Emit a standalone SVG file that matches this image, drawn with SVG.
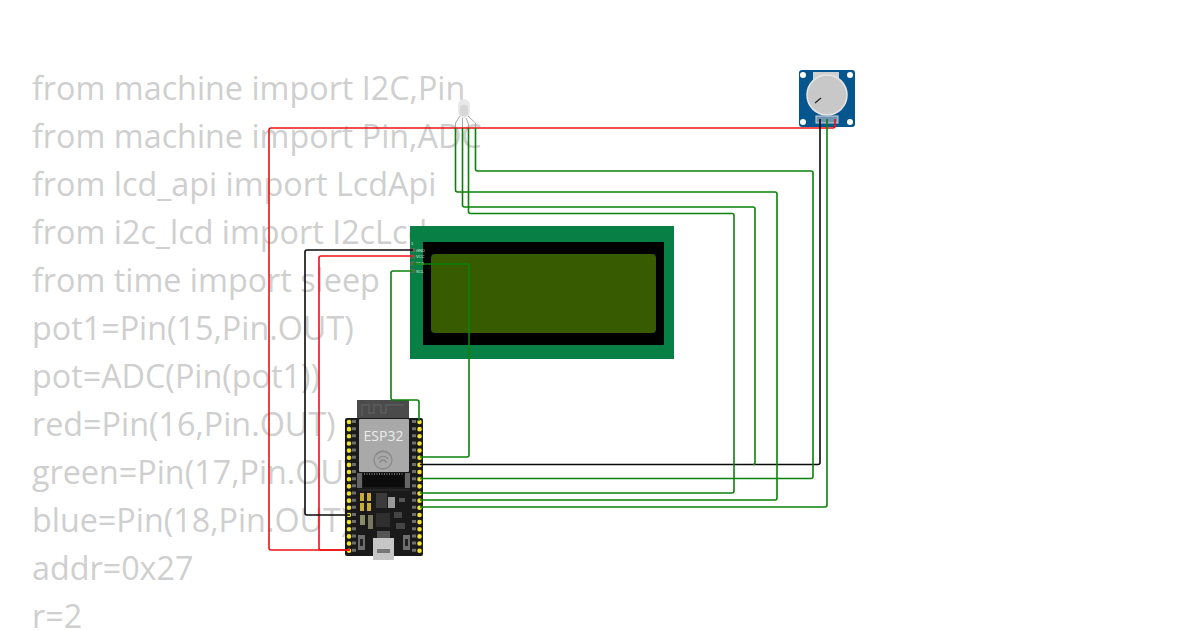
<svg xmlns="http://www.w3.org/2000/svg" width="1200" height="630" viewBox="0 0 1200 630">
<style>
.code{font:32.300px "Open Sans","Noto Sans",sans-serif;fill:#cfcfcf}
.w{fill:none;stroke-width:1.600;stroke-linejoin:round}
.g{stroke:#0a820a}.r{stroke:#ee1111}.k{stroke:#0a0a0a}
.l{font:4px "Liberation Sans",sans-serif;fill:#e4efe4}
.pad{fill:#5b6b52}
.pin{fill:none;stroke:#f2e230;stroke-width:4.600;stroke-linecap:round;stroke-dasharray:0 7.150}
.silk{fill:none;stroke:#6f6f6f;stroke-width:4;stroke-dasharray:3 4.150}
.hole{fill:#fff}
</style>
<rect width="1200" height="630" fill="#fff"/>
<g id="code">
<text class="code" x="32" y="100">from machine import I2C,Pin</text>
<text class="code" x="32" y="148">from machine import Pin,ADC</text>
<text class="code" x="32" y="196">from lcd_api import LcdApi</text>
<text class="code" x="32" y="244">from i2c_lcd import I2cLcd</text>
<text class="code" x="32" y="292">from time import sleep</text>
<text class="code" x="32" y="340">pot1=Pin(15,Pin.OUT)</text>
<text class="code" x="32" y="388">pot=ADC(Pin(pot1))</text>
<text class="code" x="32" y="436">red=Pin(16,Pin.OUT)</text>
<text class="code" x="32" y="484">green=Pin(17,Pin.OUT)</text>
<text class="code" x="32" y="532">blue=Pin(18,Pin.OUT)</text>
<text class="code" x="32" y="580">addr=0x27</text>
<text class="code" x="32" y="628">r=2</text>
</g>
<g id="lcd">
<rect x="410" y="226" width="264" height="133" fill="#087f45"/>
<rect x="423" y="242" width="241" height="103" fill="#000"/>
<rect x="431" y="254" width="225" height="79" rx="4" fill="#375b00"/>
<rect class="pad" x="411" y="248" width="4" height="4"/><rect class="pad" x="411" y="254.500" width="4" height="4"/><rect class="pad" x="411" y="261.500" width="4" height="4"/><rect class="pad" x="411" y="269" width="4" height="4"/>
<text class="l" x="411" y="245">1</text><text class="l" x="416" y="251.500">GND</text><text class="l" x="416" y="258">VCC</text><text class="l" x="416" y="265">SDA</text><text class="l" x="416" y="272.500">SCL</text>
</g>
<g id="led">
<rect x="458" y="99" width="12" height="19" rx="6" fill="#e8e8e8"/>
<rect x="460" y="105" width="8" height="11" rx="3" fill="#d6d6d6"/>
<path d="M460 116L455.500 123V128M462.500 118V128M466 118L468.500 124V128M468 116L475.500 123V128" fill="none" stroke="#a8a8a8" stroke-width="1"/>
</g>
<g id="pot">
<rect x="799" y="70" width="56" height="57" rx="3" fill="#05558f"/>
<circle class="hole" cx="803" cy="75" r="3"/><circle class="hole" cx="850" cy="75" r="3"/><circle class="hole" cx="803" cy="122" r="3"/><circle class="hole" cx="850" cy="122" r="3"/>
<rect x="813" y="72" width="26" height="8" fill="#cfcfcf"/>
<circle cx="827" cy="95" r="20" fill="#c8c8c8" stroke="#e6e6e6" stroke-width="1.500"/>
<path d="M815 103L821 98" stroke="#222" stroke-width="1.200"/>
<rect x="816" y="116" width="22" height="7" fill="#6f93b3" stroke="#c8d4de" stroke-width="1"/>
</g>
<g id="esp32">
<rect x="357" y="400" width="52" height="22" fill="#4b4b4b"/>
<path d="M362 416V405H369V413H374V405H381V413H386V405H404" fill="none" stroke="#5e5e5e" stroke-width="1.500"/>
<rect x="345" y="418" width="78" height="138" rx="2" fill="#1a1a1a"/>
<path class="silk" d="M354 420V552M414 420V552"/>
<path class="pin" d="M349 422V552M419.500 422V552"/>
<rect x="359" y="419" width="50" height="53" rx="1" fill="#a9a9a9"/>
<text x="383.500" y="441" text-anchor="middle" font-family="Open Sans,sans-serif" font-size="14" fill="#ececec">ESP32</text>
<g fill="none" stroke="#8a8a8a" stroke-width="1.300"><path d="M376 455a9 9 0 0 1 14 0M378 459a6 6 0 0 1 10 0M380 463a3 3 0 0 1 6 0"/><circle cx="383" cy="460" r="9"/></g>
<rect x="357" y="473" width="5" height="15" fill="#666"/><rect x="405" y="473" width="5" height="15" fill="#666"/>
<rect x="363" y="473" width="41" height="14" fill="#0c0c0c"/>
<path d="M364 474H403" stroke="#666" stroke-width="2" stroke-dasharray="1 1.500"/>
<path d="M358 490H410" stroke="#333" stroke-width="1"/>
<rect x="360" y="493" width="4" height="8" fill="#c8aa40"/><rect x="367" y="493" width="4" height="8" fill="#c8aa40"/>
<rect x="360" y="503" width="4" height="8" fill="#c8aa40"/><rect x="367" y="503" width="4" height="8" fill="#c8aa40"/>
<rect x="376" y="493" width="11" height="15" fill="#3b3b3b"/>
<rect x="388" y="497" width="7" height="11" fill="#9a9a9a"/>
<rect x="399" y="498" width="6" height="4" fill="#555"/>
<rect x="376" y="513" width="14" height="14" fill="#2e2e2e"/>
<rect x="360" y="515" width="5" height="10" fill="#8a8a6a"/><rect x="368" y="515" width="5" height="14" fill="#77775f"/>
<rect x="394" y="512" width="8" height="6" fill="#444"/><rect x="396" y="523" width="9" height="6" fill="#444"/>
<rect x="358" y="535" width="7" height="15" fill="#6e6e6e"/><rect x="360" y="539" width="3" height="7" fill="#222"/>
<rect x="403" y="535" width="7" height="15" fill="#6e6e6e"/><rect x="405" y="539" width="3" height="7" fill="#222"/>
<rect x="373" y="538" width="21" height="22" fill="#c6c6c6"/>
<rect x="377" y="531" width="13" height="7" fill="#555"/>
<rect x="377" y="549" width="13" height="4" fill="#777"/>
</g>
<g id="connectors">
<path class="w r" d="M835 119V126Q835 128 833 128H271Q269 128 269 130V548Q269 550 271 550H350"/>
<path class="w r" d="M413 256H321Q319 256 319 258V548Q319 550 321 550H350"/>
<path class="w k" d="M413 250H307Q305 250 305 252V513Q305 515 307 515H350"/>
<path class="w k" d="M820 119V462.500Q820 464.500 818 464.500H420"/>
<path class="w g" d="M827 119V505Q827 507 825 507H420"/>
<path class="w g" d="M475.500 128V169Q475.500 171 477.500 171H811Q813 171 813 173V476.500Q813 478.500 811 478.500H420"/>
<path class="w g" d="M455.500 128V190Q455.500 192 457.500 192H775Q777 192 777 194V498Q777 500 775 500H420"/>
<path class="w g" d="M462.500 128V205Q462.500 207 464.500 207H753Q755 207 755 209V462.500Q755 464.500 753 464.500"/>
<path class="w g" d="M468.500 128V211.500Q468.500 213.500 470.500 213.500H732Q734 213.500 734 215.500V491Q734 493 732 493H420"/>
<path class="w g" d="M413 264H467Q469 264 469 266V455Q469 457 467 457H420"/>
<path class="w g" d="M413 271H393Q391 271 391 273V398Q391 400 393 400H417Q419 400 419 402V421"/>
</g>
</svg>
